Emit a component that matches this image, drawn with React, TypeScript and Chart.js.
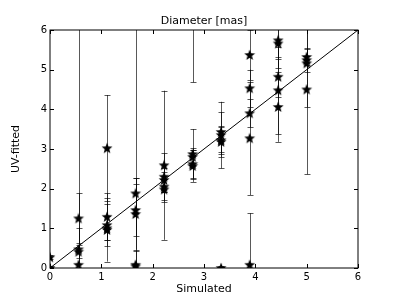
import React, { useEffect, useRef } from "react";
import { Chart, registerables } from "chart.js";

Chart.register(...registerables);

// Simulated diameter (x) for each measured point
const simulated = [
  0, 0,
  0.556, 0.556, 0.556, 0.556,
  1.111, 1.111, 1.111, 1.111, 1.111,
  1.667, 1.667, 1.667, 1.667, 1.667,
  2.222, 2.222, 2.222, 2.222, 2.222,
  2.778, 2.778, 2.778, 2.778, 2.778,
  3.333, 3.333, 3.333, 3.333, 3.333,
  3.889, 3.889, 3.889, 3.889, 3.889,
  4.444, 4.444, 4.444, 4.444, 4.444,
  5.0, 5.0, 5.0, 5.0,
];
// UV-fitted diameter (y)
const uvFitted = [
  0.27, 0.0,
  1.25, 0.47, 0.41, 0.08,
  3.02, 1.29, 1.08, 1.0, 0.96,
  1.88, 1.46, 1.36, 0.08, 0.04,
  2.59, 2.3, 2.22, 2.05, 1.98,
  2.87, 2.8, 2.62, 2.57, 6.9,
  3.43, 3.35, 3.22, 3.18, 0.0,
  5.37, 4.53, 3.9, 3.27, 0.08,
  5.74, 5.66, 4.82, 4.48, 4.06,
  5.32, 5.24, 5.16, 4.5,
];
// symmetric error on UV-fitted value
const uvError = [
  0.05, 0.05,
  0.63, 0.55, 0.17, 6.5,
  1.34, 0.59, 0.53, 0.3, 0.8,
  0.38, 0.66, 0.9, 7.0, 0.4,
  1.88, 0.59, 0.3, 0.38, 0.06,
  0.63, 0.22, 0.35, 0.4, 2.22,
  0.5, 0.84, 0.35, 0.38, 0.05,
  0.63, 0.47, 0.35, 1.43, 1.3,
  0.7, 0.38, 0.5, 1.1, 0.88,
  0.2, 0.3, 1.1, 2.14,
];
const identityLine = [0, 6];
const tickValues = [0, 1, 2, 3, 4, 5, 6];

function makeStar(): HTMLCanvasElement {
  const c = document.createElement("canvas");
  c.width = 12;
  c.height = 12;
  const g = c.getContext("2d")!;
  const cx = 6, cy = 6.3, R = 5.7, r = 2.4;
  g.beginPath();
  for (let i = 0; i < 10; i++) {
    const a = -Math.PI / 2 + (i * Math.PI) / 5;
    const rad = i % 2 === 0 ? R : r;
    const px = cx + rad * Math.cos(a);
    const py = cy + rad * Math.sin(a);
    if (i === 0) g.moveTo(px, py);
    else g.lineTo(px, py);
  }
  g.closePath();
  g.fillStyle = "#000";
  g.fill();
  return c;
}

const errorBarPlugin = {
  id: "errorBars",
  beforeDatasetsDraw(chart: any) {
    const { ctx, chartArea, scales } = chart;
    const xs = scales.x, ys = scales.y;
    ctx.save();
    ctx.beginPath();
    ctx.rect(chartArea.left, chartArea.top, chartArea.right - chartArea.left, chartArea.bottom - chartArea.top);
    ctx.clip();
    ctx.strokeStyle = "rgba(0,0,0,0.65)";
    ctx.lineWidth = 1;
    for (let i = 0; i < simulated.length; i++) {
      const px = Math.round(xs.getPixelForValue(simulated[i])) + 0.5;
      const yTop = ys.getPixelForValue(uvFitted[i] + uvError[i]);
      const yBot = ys.getPixelForValue(uvFitted[i] - uvError[i]);
      ctx.beginPath();
      ctx.moveTo(px, yTop);
      ctx.lineTo(px, yBot);
      ctx.moveTo(px - 3, Math.round(yTop) + 0.5);
      ctx.lineTo(px + 3, Math.round(yTop) + 0.5);
      ctx.moveTo(px - 3, Math.round(yBot) + 0.5);
      ctx.lineTo(px + 3, Math.round(yBot) + 0.5);
      ctx.stroke();
    }
    ctx.restore();
  },
};

const framePlugin = {
  id: "frame",
  afterDatasetsDraw(chart: any) {
    const { ctx, chartArea, scales } = chart;
    const { left, right, top, bottom } = chartArea;
    ctx.save();
    ctx.strokeStyle = "#000";
    ctx.lineWidth = 1;
    ctx.beginPath();
    for (const v of tickValues) {
      const px = Math.round(scales.x.getPixelForValue(v)) + 0.5;
      ctx.moveTo(px, bottom);
      ctx.lineTo(px, bottom - 4);
      ctx.moveTo(px, top);
      ctx.lineTo(px, top + 4);
      const py = Math.round(scales.y.getPixelForValue(v)) + 0.5;
      ctx.moveTo(left, py);
      ctx.lineTo(left + 4, py);
      ctx.moveTo(right, py);
      ctx.lineTo(right - 4, py);
    }
    ctx.stroke();
    ctx.strokeRect(left, top, right - left, bottom - top);
    ctx.restore();
  },
};

export default function App() {
  const ref = useRef<HTMLCanvasElement>(null);
  useEffect(() => {
    document.body.style.margin = "0";
    const star = makeStar();
    const points = simulated.map((x, i) => ({ x, y: uvFitted[i] }));
    const chart = new Chart(ref.current!, {
      type: "scatter",
      data: {
        datasets: [
          {
            type: "line",
            data: identityLine.map((v) => ({ x: v, y: v })),
            borderColor: "#000",
            borderWidth: 1,
            pointRadius: 0,
            fill: false,
            clip: 0,
          } as any,
          {
            data: points,
            pointStyle: star as any,
            pointRadius: 6,
            backgroundColor: "#000",
            borderColor: "#000",
            clip: 0,
          } as any,
        ],
      },
      options: {
        responsive: false,
        animation: false,
        layout: { padding: { left: 0, right: 41, top: 0, bottom: 0 } },
        plugins: {
          legend: { display: false },
          tooltip: { enabled: false },
          title: {
            display: true,
            text: "Diameter [mas]",
            fullSize: false,
            color: "#000",
            font: { family: "DejaVu Sans", size: 11, weight: "normal" },
            padding: { top: 14.4, bottom: 2.4 },
          },
        },
        scales: {
          x: {
            type: "linear",
            min: 0,
            max: 6,
            afterFit: (s: any) => { s.height = 31; },
            grid: { display: false, drawTicks: false },
            border: { display: false },
            ticks: {
              stepSize: 1,
              padding: 3,
              color: "#000",
              maxRotation: 0,
              font: { family: "DejaVu Sans", size: 10 },
            },
            title: {
              display: true,
              text: "Simulated",
              color: "#000",
              font: { family: "DejaVu Sans", size: 11 },
              padding: { top: 0, bottom: 3.4 },
            },
          },
          y: {
            type: "linear",
            min: 0,
            max: 6,
            afterFit: (s: any) => { s.width = 50; },
            grid: { display: false, drawTicks: false },
            border: { display: false },
            ticks: {
              stepSize: 1,
              padding: 3,
              color: "#000",
              font: { family: "DejaVu Sans", size: 10 },
            },
            title: {
              display: true,
              text: "UV-fitted",
              color: "#000",
              font: { family: "DejaVu Sans", size: 11 },
              padding: { top: 9.4, bottom: 0 },
            },
          },
        },
      },
      plugins: [errorBarPlugin, framePlugin],
    });
    return () => chart.destroy();
  }, []);
  return (
    <div style={{ width: 399, height: 299 }}>
      <canvas ref={ref} width={399} height={299} />
    </div>
  );
}
